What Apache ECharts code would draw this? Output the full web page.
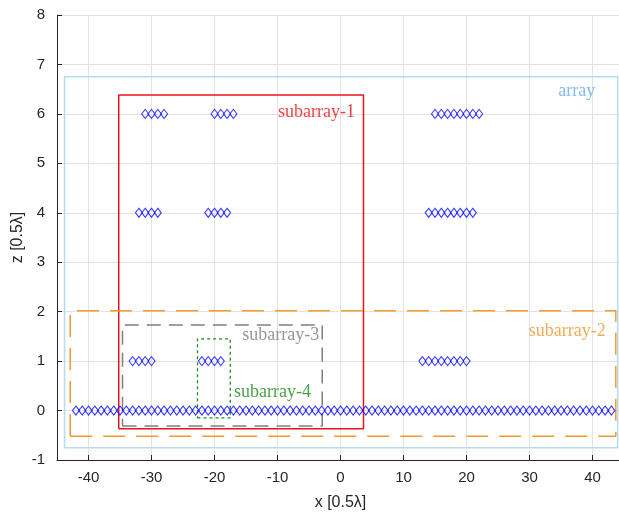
<!DOCTYPE html>
<html>
<head>
<meta charset="utf-8">
<script src="https://cdn.jsdelivr.net/npm/echarts@6/dist/echarts.min.js"></script>
<style>html,body{margin:0;padding:0;background:#fff}#c{width:619px;height:514px}</style>
</head>
<body>
<div id="c"></div>
<script>
// element x positions per row (z value)
const row0x = [-42,-41,-40,-39,-38,-37,-36,-35,-34,-33,-32,-31,-30,-29,-28,-27,-26,-25,-24,-23,-22,-21,-20,-19,-18,-17,-16,-15,-14,-13,-12,-11,-10,-9,-8,-7,-6,-5,-4,-3,-2,-1,0,1,2,3,4,5,6,7,8,9,10,11,12,13,14,15,16,17,18,19,20,21,22,23,24,25,26,27,28,29,30,31,32,33,34,35,36,37,38,39,40,41,42,43];
const row1x = [-33,-32,-31,-30,-22,-21,-20,-19,13,14,15,16,17,18,19,20];
const row4x = [-32,-31,-30,-29,-21,-20,-19,-18,14,15,16,17,18,19,20,21];
const row6x = [-31,-30,-29,-28,-20,-19,-18,-17,15,16,17,18,19,20,21,22];
const rowZ = [0, 1, 4, 6];

// boxes: [xmin, xmax, zmin, zmax]
const boxNames = ['array','subarray-1','subarray-2','subarray-3','subarray-4'];
const boxBounds = [
  [-43.8, 44.0, -0.75, 6.75],
  [-35.2, 3.65, -0.37, 6.38],
  [-42.9, 43.7, -0.52, 2.02],
  [-34.6, -2.9, -0.31, 1.73],
  [-22.7, -17.5, -0.15, 1.45]
];
// label positions [x, z]
const labelPos = [[37.5, 6.45],[-3.8, 6.04],[36.0, 1.61],[-9.5, 1.53],[-10.8, 0.36]];

const xTicks = [-40,-30,-20,-10,0,10,20,30,40];

const boxStyles = [
  {color:'#b4dcf2', width:1.5, type:'solid', text:'#62aaf0'},
  {color:'#e8141c', width:1.5, type:'solid', text:'#e8141c'},
  {color:'#f39a2b', width:1.5, type:[22,11], text:'#f0962a'},
  {color:'#808080', width:1.5, type:[14,8], text:'#757d8a'},
  {color:'#1a8a1a', width:1.3, type:[3,3], text:'#1a8a1a'}
];

const rows = [row0x,row1x,row4x,row6x];
const series = [];
boxBounds.forEach((b,i)=>{
  const st = boxStyles[i];
  series.push({
    type:'line', silent:true, symbol:'none', z:2,
    data:[[b[0],b[2]],[b[1],b[2]],[b[1],b[3]],[b[0],b[3]],[b[0],b[2]]],
    lineStyle:{color:st.color,width:st.width,type:st.type}
  });
});
rows.forEach((xs,i)=>{
  series.push({
    type:'scatter', silent:true, symbol:'diamond', symbolSize:[7,9], z:3,
    data: xs.map(x=>[x,rowZ[i]]),
    itemStyle:{color:'rgba(0,0,0,0)', borderColor:'#0a0aff', borderWidth:1.1}
  });
});
boxNames.forEach((n,i)=>{
  series.push({
    type:'scatter', silent:true, symbolSize:0, z:4,
    data:[{value:labelPos[i], name:n}],
    label:{show:true, position:'inside', formatter:'{b}', color:boxStyles[i].text,
      fontFamily:'Liberation Serif', fontSize:18}
  });
});

const chart = echarts.init(document.getElementById('c'));
chart.setOption({
  animation:false,
  backgroundColor:'#fff',
  grid:{left:57, width:567, top:15, bottom:54, containLabel:false, outerBoundsMode:'none'},
  xAxis:{
    type:'value', min:-45, max:45,
    name:'x [0.5λ]', nameLocation:'middle', nameGap:35, nameMoveOverlap:false,
    nameTextStyle:{fontFamily:'Liberation Sans', fontSize:16, color:'#262626'},
    axisLine:{show:true, onZero:false, lineStyle:{color:'#262626', width:1}},
    axisTick:{show:true, inside:true, length:5, customValues:xTicks, lineStyle:{color:'#262626'}},
    axisLabel:{customValues:xTicks, fontFamily:'Liberation Sans', fontSize:15, color:'#262626', margin:10},
    splitLine:{show:true, lineStyle:{color:'#e3e3e3', width:1}}
  },
  yAxis:{
    type:'value', min:-1, max:8, interval:1,
    name:'z [0.5λ]', nameLocation:'middle', nameGap:31, nameMoveOverlap:false,
    nameTextStyle:{fontFamily:'Liberation Sans', fontSize:16, color:'#262626'},
    axisLine:{show:true, onZero:false, lineStyle:{color:'#262626', width:1}},
    axisTick:{show:true, inside:true, length:5, lineStyle:{color:'#262626'}},
    axisLabel:{fontFamily:'Liberation Sans', fontSize:15, color:'#262626', margin:12},
    splitLine:{show:true, lineStyle:{color:'#e3e3e3', width:1}}
  },
  series: series
});
</script>
</body>
</html>
